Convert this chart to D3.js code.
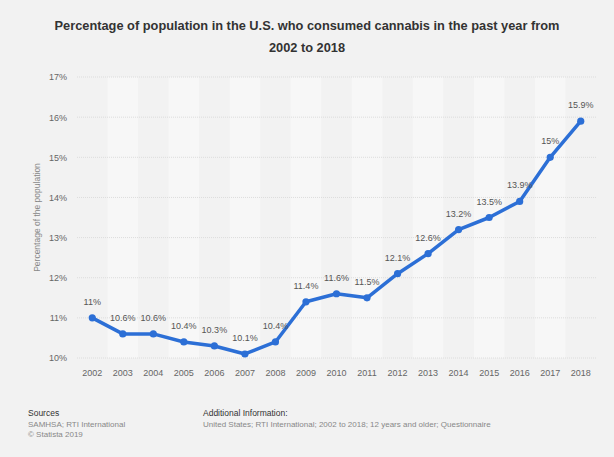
<!DOCTYPE html>
<head>
    <meta charset="utf-8">
    <script src="https://d3js.org/d3.v7.min.js"></script>
    <style>
        html, body { padding: 0; margin: 0; background: #f2f2f2; }
        svg { display: block; font-family: "Liberation Sans", Arial, sans-serif; }
        .grid line { stroke: #dcdcdc; stroke-dasharray: 1,1; }
        .axis text { fill: #666; font-size: 9px; }
        .axis path, .axis line { display: none; }
    </style>
</head>
<body>
<svg width="614" height="457"></svg>
<script>
    var years = ["2002","2003","2004","2005","2006","2007","2008","2009","2010",
                 "2011","2012","2013","2014","2015","2016","2017","2018"];
    var shares = [11, 10.6, 10.6, 10.4, 10.3, 10.1, 10.4, 11.4, 11.6,
                  11.5, 12.1, 12.6, 13.2, 13.5, 13.9, 15, 15.9];
    var yTicks = [10, 11, 12, 13, 14, 15, 16, 17];

    var margin = {top: 77, right: 18, bottom: 99, left: 77};
    var width = 614 - margin.left - margin.right;
    var height = 457 - margin.top - margin.bottom;

    var svg = d3.select("svg");

    // title
    svg.append("text")
        .attr("x", 307).attr("y", 30)
        .attr("text-anchor", "middle")
        .style("font-weight", "bold").style("font-size", "12.8px").attr("fill", "#333")
        .text("Percentage of population in the U.S. who consumed cannabis in the past year from");
    svg.append("text")
        .attr("x", 307).attr("y", 52)
        .attr("text-anchor", "middle")
        .style("font-weight", "bold").style("font-size", "12.8px").attr("fill", "#333")
        .text("2002 to 2018");

    var g = svg.append("g")
        .attr("transform", "translate(" + margin.left + "," + margin.top + ")");

    var xBand = d3.scaleBand().domain(years).range([0, width]).padding(0);
    var x = function(d) { return xBand(d) + xBand.bandwidth() / 2; };
    var y = d3.scaleLinear().domain([10, 17]).range([height, 0]);

    // alternating column bands
    g.selectAll(".band")
        .data(years.filter(function(d, i) { return i % 2 == 1; }))
        .enter().append("rect")
        .attr("x", function(d) { return xBand(d); })
        .attr("y", 0)
        .attr("width", xBand.bandwidth())
        .attr("height", height)
        .attr("fill", "#f7f7f7");

    g.append("g")
        .attr("class", "grid")
        .selectAll("line")
        .data(yTicks)
        .enter().append("line")
        .attr("x1", 0).attr("x2", width)
        .attr("y1", function(d) { return y(d); })
        .attr("y2", function(d) { return y(d); });

    g.append("g")
        .attr("class", "axis")
        .attr("transform", "translate(0," + height + ")")
        .call(d3.axisBottom(xBand).tickSize(0).tickPadding(12));

    g.append("g")
        .attr("class", "axis")
        .call(d3.axisLeft(y).tickValues(yTicks).tickSize(0).tickPadding(10)
            .tickFormat(function(d) { return d + "%"; }));

    svg.append("text")
        .attr("transform", "translate(40," + (margin.top + height / 2) + ") rotate(-90)")
        .attr("text-anchor", "middle")
        .style("font-size", "8.5px").attr("fill", "#888")
        .text("Percentage of the population");

    var line = d3.line()
        .x(function(d, i) { return x(years[i]); })
        .y(function(d) { return y(d); });

    g.append("path")
        .datum(shares)
        .attr("fill", "none")
        .attr("stroke", "#2c6fd6")
        .attr("stroke-width", 3.5)
        .attr("stroke-linejoin", "round")
        .attr("d", line);

    g.selectAll(".dot")
        .data(shares)
        .enter().append("circle")
        .attr("cx", function(d, i) { return x(years[i]); })
        .attr("cy", function(d) { return y(d); })
        .attr("r", 3.6)
        .attr("fill", "#2c6fd6");

    g.selectAll(".lbl")
        .data(shares)
        .enter().append("text")
        .attr("x", function(d, i) { return x(years[i]); })
        .attr("y", function(d) { return y(d) - 13; })
        .attr("text-anchor", "middle")
        .style("font-size", "9px").attr("fill", "#555")
        .text(function(d) { return d + "%"; });

    // footer
    var foot = svg.append("g").style("font-size", "8px");
    foot.append("text").attr("x", 28).attr("y", 416).attr("fill", "#333").style("font-size", "8.5px").text("Sources");
    foot.append("text").attr("x", 28).attr("y", 427).attr("fill", "#888").text("SAMHSA; RTI International");
    foot.append("text").attr("x", 28).attr("y", 437).attr("fill", "#888").text("© Statista 2019");
    foot.append("text").attr("x", 203).attr("y", 416).attr("fill", "#333").style("font-size", "8.5px").text("Additional Information:");
    foot.append("text").attr("x", 203).attr("y", 427).attr("fill", "#888")
        .text("United States; RTI International; 2002 to 2018; 12 years and older; Questionnaire");
</script>
</body>
